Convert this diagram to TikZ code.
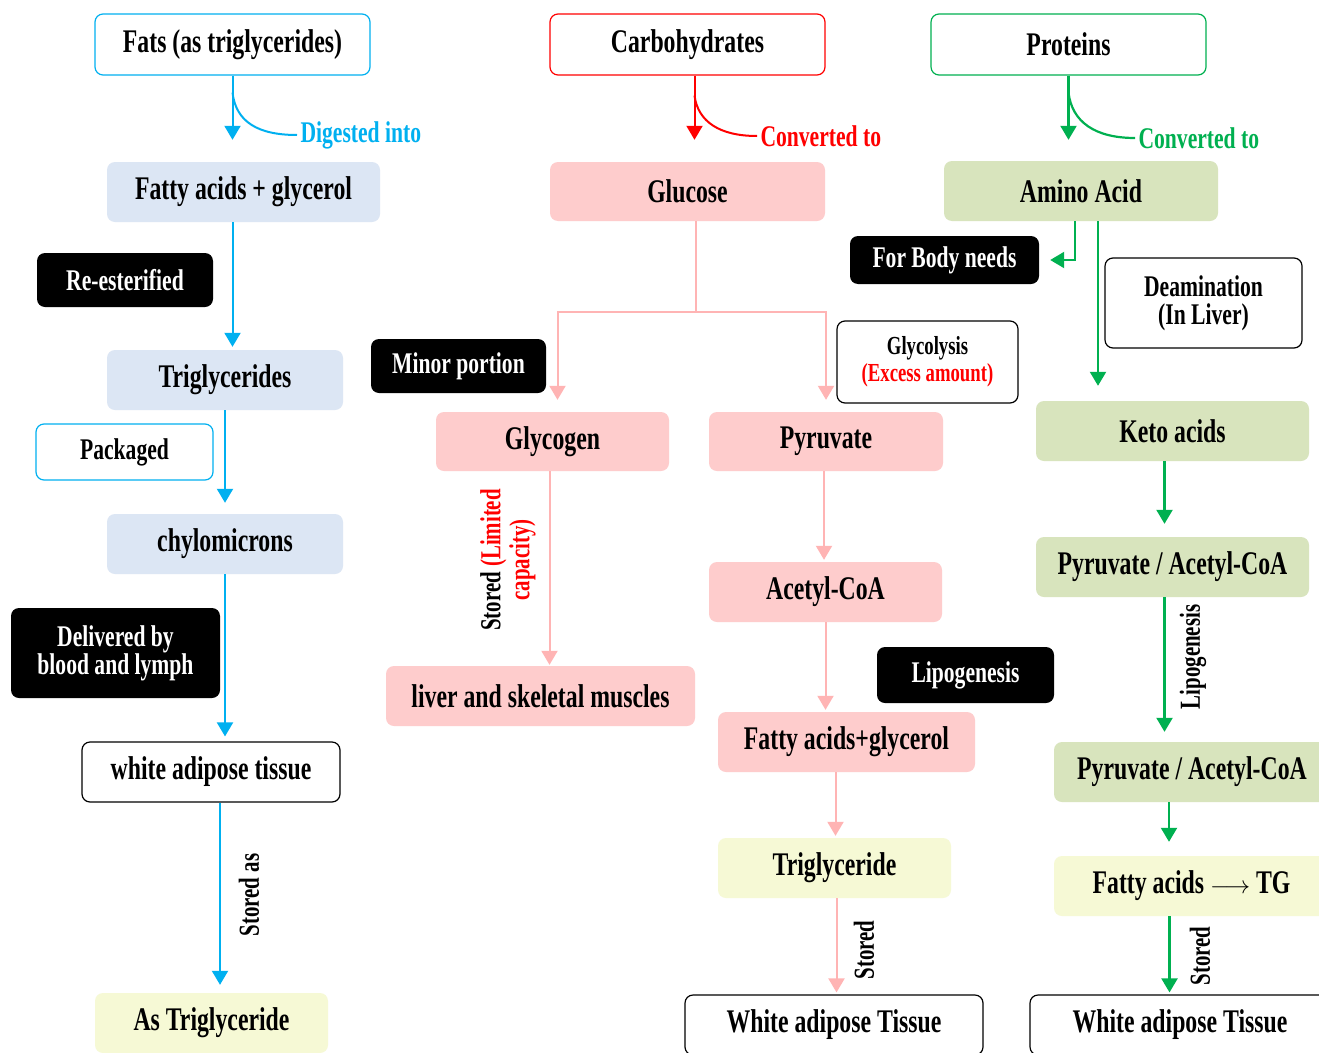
\documentclass[tikz,border=0pt]{standalone}
\usepackage{fontspec}
\setmainfont{Liberation Serif}[UprightFont={* Bold}, BoldFont={* Bold}, FakeStretch=0.72]
\usetikzlibrary{arrows.meta}
\definecolor{fatblue}{HTML}{00B0F0}
\definecolor{fatfill}{HTML}{DCE6F4}
\definecolor{carbred}{HTML}{FF0000}
\definecolor{carbline}{HTML}{FFB4B4}
\definecolor{carbfill}{HTML}{FECCCC}
\definecolor{protgreen}{HTML}{00B050}
\definecolor{protfill}{HTML}{D8E4BD}
\definecolor{tgfill}{HTML}{F6F9D5}
\newcommand{\bigtxt}{\fontsize{33}{34}\selectfont}
\newcommand{\tagtxt}{\fontsize{30}{28}\selectfont}
\newcommand{\sidetxt}{\fontsize{29}{29}\selectfont}

\begin{document}
\begin{tikzpicture}[x=1pt, y=-1pt, >={Triangle[length=14pt,width=16pt]},
  box/.style={rounded corners=8pt, minimum height=60pt, inner sep=0pt, align=center, font=\bigtxt},
  source/.style={box, fill=white, line width=1.2pt},
  tag/.style={box, fill=black, text=white, font=\tagtxt},
  note/.style={box, draw=black, fill=white, line width=1.2pt, font=\tagtxt},
  side/.style={rotate=90, font=\sidetxt, align=center},
  fatline/.style={draw=fatblue, line width=2pt},
  carbarrow/.style={draw=carbline, line width=2pt},
  protline/.style={draw=protgreen, line width=2.2pt}]

\fill[white] (0,0) rectangle (1319,1052);
\useasboundingbox (0,0) rectangle (1319,1052);

% fats
\node[source, draw=fatblue, minimum width=275pt, minimum height=61pt] (fats) at (232.5,44.5) {Fats (as triglycerides)};
\node[box, fill=fatfill, minimum width=273pt] (fatty) at (243.5,192) {Fatty acids + glycerol};
\node[tag, minimum width=176pt, minimum height=54pt] (reest) at (125,280) {Re-esterified};
\node[box, fill=fatfill, minimum width=236pt] (trig) at (225,380) {Triglycerides};
\node[note, draw=fatblue, minimum width=177pt, minimum height=56pt] (pack) at (124.5,452) {Packaged};
\node[box, fill=fatfill, minimum width=236pt] (chylo) at (225,544) {chylomicrons};
\node[tag, minimum width=209pt, minimum height=90pt] (deliv) at (115.5,653) {Delivered by\\blood and lymph};
\node[note, font=\bigtxt, minimum width=258pt] (wat) at (211,772) {white adipose tissue};
\node[box, fill=tgfill, minimum width=233pt] (astg) at (211.5,1023) {As Triglyceride};
\node[font=\tagtxt, text=fatblue, anchor=west] (dig) at (297,135) {Digested into};
\node[side] (storedas) at (249,895) {Stored as};

\draw[fatline, ->, shorten >=22pt] (fats.south) -- (fats.south |- fatty.north);
\draw[fatline] ([yshift=-17pt]fats.south) .. controls (236,122) and (258,135) .. (dig.west);
\draw[fatline, ->, shorten >=3pt] (fats.south |- fatty.south) -- (fats.south |- trig.north);
\draw[fatline, ->, shorten >=11pt] (trig.south) -- (chylo.north);
\draw[fatline, ->, shorten >=5pt] (chylo.south) -- (chylo.south |- wat.north);
\draw[fatline, ->, shorten >=8pt] ([xshift=9pt]wat.south) -- ([xshift=9pt]wat.south |- astg.north);

% carbohydrates
\node[source, draw=carbred, minimum width=275pt, minimum height=61pt] (carb) at (687.5,44.5) {Carbohydrates};
\node[box, fill=carbfill, minimum width=275pt, minimum height=59pt] (glucose) at (687.5,191.5) {Glucose};
\node[tag, minimum width=175pt, minimum height=54pt] (minor) at (458.5,366) {Minor portion};
\node[note, minimum width=181pt, minimum height=82pt, font=\fontsize{26}{27}\selectfont] (glyco) at (927.5,362) {Glycolysis\\\textcolor{carbred}{(Excess amount)}};
\node[box, fill=carbfill, minimum width=233pt, minimum height=59pt] (glycogen) at (552.5,441.5) {Glycogen};
\node[box, fill=carbfill, minimum width=234pt, minimum height=59pt] (pyr) at (826,441.5) {Pyruvate};
\node[box, fill=carbfill, minimum width=309pt] (liver) at (540.5,696) {liver and skeletal muscles};
\node[box, fill=carbfill, minimum width=233pt] (acoa) at (825.5,592) {Acetyl-CoA};
\node[tag, minimum width=177pt, minimum height=56pt] (lipo) at (965.5,675) {Lipogenesis};
\node[box, fill=carbfill, minimum width=257pt] (fag) at (846.5,742) {Fatty acids+glycerol};
\node[box, fill=tgfill, minimum width=233pt] (tg) at (834.5,868) {Triglyceride};
\node[note, font=\bigtxt, minimum width=298pt] (wat2) at (834,1025) {White adipose Tissue};
\node[font=\tagtxt, text=carbred, anchor=west] (conv1) at (757,136) {Converted to};
\node[side] (storedlim) at (508,560) {Stored \textcolor{carbred}{(Limited}\\\textcolor{carbred}{capacity)}};
\node[side] (stored2) at (864,950) {Stored};
\coordinate (split) at (696,312);

\draw[draw=carbred, line width=2pt, ->, shorten >=22pt] ([xshift=7pt]carb.south) -- ([xshift=7pt]carb.south |- glucose.north);
\draw[draw=carbred, line width=2pt] ([xshift=7pt,yshift=-20pt]carb.south) .. controls (698,122) and (720,136) .. (conv1.west);
\draw[carbarrow] ([xshift=8.5pt]glucose.south) -- (split);
\draw[carbarrow, ->, shorten >=12pt] (split) -| ([xshift=5pt]glycogen.north);
\draw[carbarrow, ->, shorten >=12pt] (split) -| (pyr.north);
\draw[carbarrow, ->, shorten >=1pt] ([xshift=-3pt]glycogen.south) -- ([xshift=-3pt]glycogen.south |- liver.north);
\draw[carbarrow, ->, shorten >=2pt] ([xshift=-2pt]pyr.south) -- ([xshift=-2pt]pyr.south |- acoa.north);
\draw[carbarrow, ->, shorten >=2pt] (acoa.south) -- (acoa.south |- fag.north);
\draw[carbarrow, ->, shorten >=2pt] ([xshift=-11pt]fag.south) -- ([xshift=-11pt]fag.south |- tg.north);
\draw[carbarrow, ->, shorten >=2pt] ([xshift=2pt]tg.south) -- ([xshift=2pt]tg.south |- wat2.north);

% proteins
\node[source, draw=protgreen, minimum width=275pt, minimum height=61pt] (prot) at (1068.5,44.5) {Proteins};
\node[box, fill=protfill, minimum width=274pt] (amino) at (1081,191) {Amino Acid};
\node[tag, minimum width=189pt, minimum height=48pt] (body) at (944.5,260) {For Body needs};
\node[note, minimum width=197pt, minimum height=90pt] (deam) at (1203.5,303) {Deamination\\(In Liver)};
\node[box, fill=protfill, minimum width=273pt] (keto) at (1172.5,431) {Keto acids};
\node[box, fill=protfill, minimum width=273pt] (pac1) at (1172.5,567) {Pyruvate / Acetyl-CoA};
\node[box, fill=protfill, minimum width=276pt] (pac2) at (1192,772) {Pyruvate / Acetyl-CoA};
\node[box, fill=tgfill, minimum width=275pt] (fatg) at (1191.5,886) {Fatty acids $\longrightarrow$ TG};
\node[note, font=\bigtxt, minimum width=300pt] (wat3) at (1180,1025) {White adipose Tissue};
\node[font=\tagtxt, text=protgreen, anchor=west] (conv2) at (1135,138) {Converted to};
\node[side] (lipo2) at (1193,657) {Lipogenesis};
\node[side] (stored3) at (1200,956) {Stored};

\draw[protline, ->, shorten >=21pt] (prot.south) -- (prot.south |- amino.north);
\draw[protline] ([yshift=-17pt]prot.south) .. controls (1072,122) and (1095,138) .. (conv2.west);
\draw[protline, ->, shorten >=11pt] ([xshift=-6pt]amino.south) |- (body.east);
\draw[protline, ->, shorten >=15pt] ([xshift=17pt]amino.south) -- ([xshift=17pt]amino.south |- keto.north);
\draw[protline, ->, shorten >=13pt] ([xshift=-8pt]keto.south) -- ([xshift=-8pt]keto.south |- pac1.north);
\draw[protline, ->, shorten >=10pt] ([xshift=-8pt]pac1.south) -- ([xshift=-8pt]pac1.south |- pac2.north);
\draw[protline, ->, shorten >=14pt] ([xshift=-23pt]pac2.south) -- ([xshift=-23pt]pac2.south |- fatg.north);
\draw[protline, ->, shorten >=2pt] ([xshift=-22pt]fatg.south) -- ([xshift=-22pt]fatg.south |- wat3.north);

\end{tikzpicture}
\end{document}
